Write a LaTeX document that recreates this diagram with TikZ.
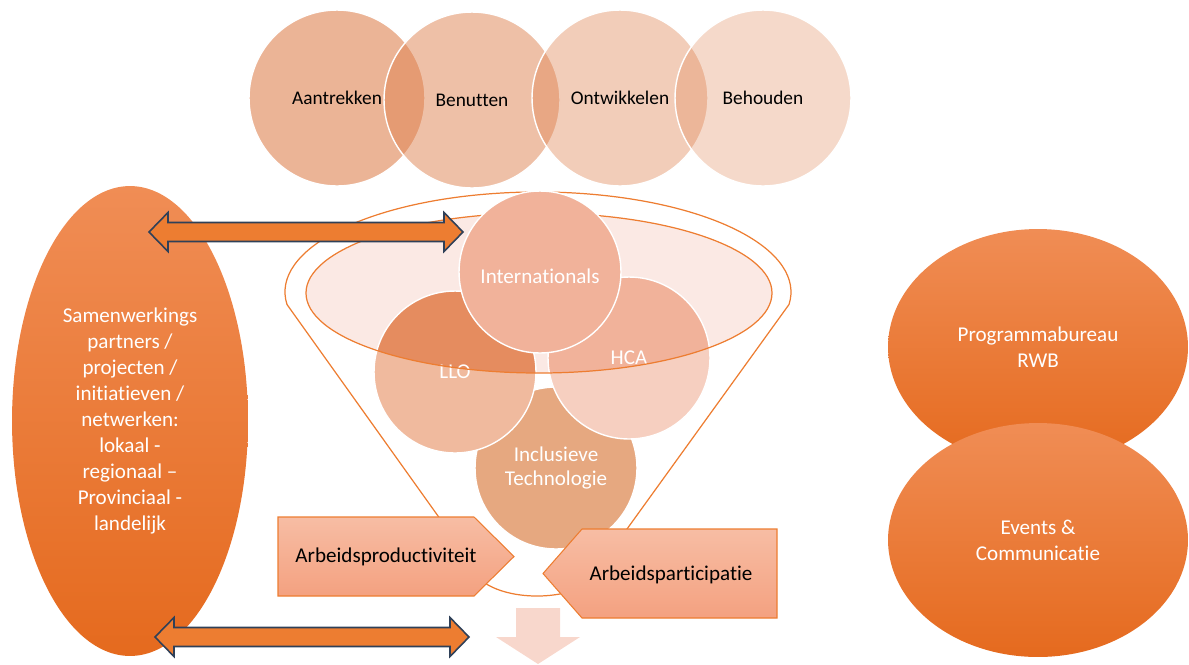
\documentclass[tikz,border=0pt]{standalone}
\usepackage{fontspec}
\setmainfont{Carlito}[Ligatures={TeX,NoCommon}]
\usetikzlibrary{calc,shapes.geometric}

\definecolor{accent}{HTML}{ED7D31}
\definecolor{navy}{HTML}{2F4058}
\definecolor{ringbase}{HTML}{DE8250}
\definecolor{funnelfill}{HTML}{FBE9E4}
\definecolor{intlcol}{HTML}{F1B29A}
\definecolor{llolight}{HTML}{F0BA9E}
\definecolor{llodark}{HTML}{E58C5F}
\definecolor{hcalight}{HTML}{F6CFC0}
\definecolor{hcadark}{HTML}{F1B29A}
\definecolor{inclcol}{HTML}{E6A880}
\definecolor{boxtop}{HTML}{F7BDA4}
\definecolor{boxbot}{HTML}{F4A180}
\definecolor{downcol}{HTML}{F8D7CC}
\definecolor{ovaltop}{HTML}{F08D55}
\definecolor{ovalbot}{HTML}{E56A1E}

% block arrow with a head at both ends, between two points at the same height
\newcommand{\dblarrow}[2]{%
  \draw[dblarrow] let \p1=(#1), \p2=(#2) in
    (\x1,\y1) -- (\x1+0.38cm,\y1+0.39cm) -- (\x1+0.38cm,\y1+0.19cm)
    -- (\x2-0.38cm,\y1+0.19cm) -- (\x2-0.38cm,\y1+0.39cm) -- (\x2,\y1)
    -- (\x2-0.38cm,\y1-0.39cm) -- (\x2-0.38cm,\y1-0.19cm)
    -- (\x1+0.38cm,\y1-0.19cm) -- (\x1+0.38cm,\y1-0.39cm) -- cycle;}

\begin{document}
\begin{tikzpicture}[x=0.02cm,y=0.02cm,
  every node/.style={font=\fontsize{12}{14.75}\selectfont},
  topring/.style={circle,minimum size=3.52cm,inner sep=0pt,fill=ringbase,
    draw=white,line width=0.8pt,text opacity=1,
    font=\fontsize{11}{13}\selectfont},
  fring/.style={circle,minimum size=3.24cm,inner sep=0pt,draw=white,
    line width=0.8pt,text=white,align=center,
    font=\fontsize{12}{13.5}\selectfont},
  funnel/.style={draw=accent,line width=0.7pt},
  tagbox/.style={top color=boxtop,bottom color=boxbot,draw=accent,line width=0.6pt},
  bigoval/.style={ellipse,inner sep=0pt,top color=ovaltop,bottom color=ovalbot,
    text=white,align=center},
  dblarrow/.style={fill=accent,draw=navy,line width=0.9pt,line join=miter}]
\useasboundingbox (0,0) rectangle (1189,-664);

% the four stages on top
\foreach \xx/\yy/\op/\lbl [count=\i] in
  {337/98/0.6/Aantrekken,472/100/0.5/Benutten,620/98/0.4/Ontwikkelen,763/98/0.3/Behouden}
  \node[topring,fill opacity=\op] (stage\i) at (\xx,-\yy) {\lbl};

% funnel
\coordinate (fc) at (539,-293);
\draw[funnel] (287,-304.5) arc[start angle=187.2,end angle=-7.2,x radius=253,y radius=100]
  -- (601,-565) arc[start angle=0,end angle=-180,x radius=64,y radius=31] -- cycle;
\fill[funnelfill] (fc) ellipse[x radius=233,y radius=80];

\node[fring,fill=inclcol] (incl) at (556,-468) {Inclusieve\\Technologie};
\node[fring,fill=llolight,
  path picture={\fill[llodark] (fc) ellipse[x radius=233,y radius=80];}]
  (llo) at (455,-372) {LLO};
\node[fring,fill=hcalight,
  path picture={\fill[hcadark] (fc) ellipse[x radius=233,y radius=80];}]
  (hca) at (629,-358) {HCA};
\draw[funnel] (fc) ellipse[x radius=233,y radius=80];
\node[fring,fill=intlcol,text height=1.3em] (intl) at (540,-272) {Internationals};

% the two tags and the outlet
\draw[tagbox] (278,-517) -- (474,-517) -- (514,-556.5) -- (474,-596) -- (278,-596) -- cycle;
\node (prod) at (386,-557) {Arbeidsproductiviteit};
\draw[tagbox] (777,-529) -- (582,-529) -- (543,-573.5) -- (582,-618) -- (777,-618) -- cycle;
\node (part) at (671,-575) {Arbeidsparticipatie};
\fill[downcol] (516,-608) -- (560,-608) -- (560,-637) -- (580,-637) -- (538,-664)
  -- (496,-637) -- (516,-637) -- cycle;

% partners on the left, bureau on the right
\node[bigoval,minimum width=4.72cm,minimum height=9.4cm] (partners) at (130,-421)
  {Samenwerkings\\partners /\\projecten /\\initiatieven /\\netwerken:\\lokaal -\\regionaal –\\Provinciaal -\\landelijk};
\node[bigoval,minimum width=6cm,minimum height=4.72cm] (bureau) at (1038,-347)
  {Programmabureau\\RWB};
\node[bigoval,minimum width=6cm,minimum height=4.68cm] (events) at (1038,-540)
  {Events \&\\Communicatie};

% links
\coordinate (linkA) at (149,-232);
\coordinate (linkB) at (463,-232);
\coordinate (linkC) at (155,-637);
\coordinate (linkD) at (469,-637);
\dblarrow{linkA}{linkB}
\dblarrow{linkC}{linkD}
\end{tikzpicture}
\end{document}
